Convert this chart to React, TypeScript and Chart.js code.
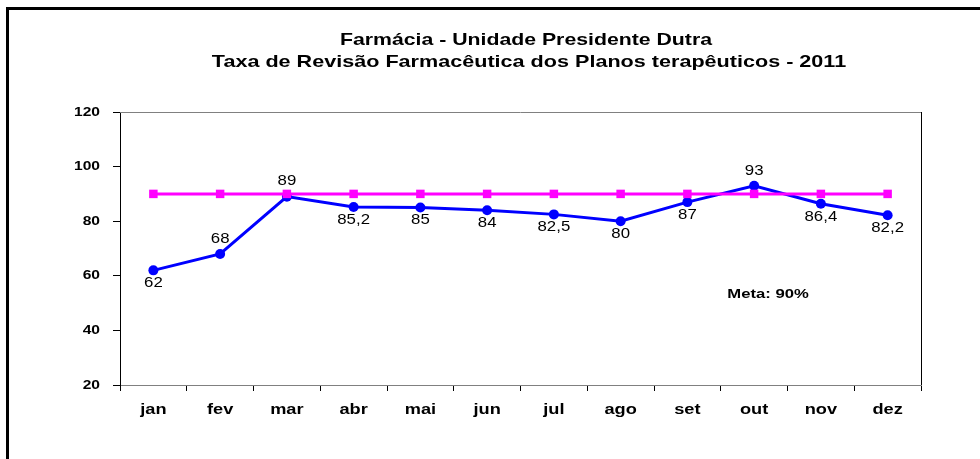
import React, { useEffect, useRef } from "react";
import { Chart, registerables } from "chart.js";

Chart.register(...registerables);

const months = ["jan", "fev", "mar", "abr", "mai", "jun", "jul", "ago", "set", "out", "nov", "dez"];
const taxa = [62, 68, 89, 85.2, 85, 84, 82.5, 80, 87, 93, 86.4, 82.2];
const meta = [90, 90, 90, 90, 90, 90, 90, 90, 90, 90, 90, 90];
const labelAbove = [false, true, true, false, false, false, false, false, false, true, false, false];
const titleLines = ["Farmácia - Unidade Presidente Dutra", "Taxa de Revisão Farmacêutica dos Planos terapêuticos - 2011"];
const metaText = "Meta: 90%";
const yTicks = [20, 40, 60, 80, 100, 120];

const FONT = "'Liberation Sans', Arial, sans-serif";

function wideText(ctx: any, txt: string, x: number, y: number, sx: number, align: string) {
  ctx.save();
  ctx.translate(x, y);
  ctx.scale(sx, 1);
  ctx.textAlign = align;
  ctx.fillText(txt, 0, 0);
  ctx.restore();
}

const decor = {
  id: "decor",
  beforeDraw(chart: any) {
    const ctx = chart.ctx;
    ctx.save();
    ctx.fillStyle = "#fff";
    ctx.fillRect(0, 0, chart.width, chart.height);
    ctx.strokeStyle = "#000";
    ctx.lineWidth = 3;
    ctx.beginPath();
    ctx.moveTo(7.5, chart.height + 2);
    ctx.lineTo(7.5, 8.5);
    ctx.lineTo(chart.width + 2, 8.5);
    ctx.stroke();
    ctx.restore();
  },
  afterDatasetsDraw(chart: any) {
    const ctx = chart.ctx;
    const a = chart.chartArea;
    const xs = chart.scales.x;
    const ys = chart.scales.y;
    ctx.save();
    ctx.lineWidth = 1;
    ctx.strokeStyle = "#808080";
    ctx.beginPath();
    ctx.moveTo(a.left, a.top + 0.5);
    ctx.lineTo(a.right, a.top + 0.5);
    ctx.stroke();
    ctx.strokeStyle = "#000";
    ctx.beginPath();
    ctx.moveTo(a.right + 0.5, a.top);
    ctx.lineTo(a.right + 0.5, a.bottom);
    ctx.stroke();

    ctx.fillStyle = "#000";
    ctx.textBaseline = "middle";
    // titles
    ctx.font = `bold 17px ${FONT}`;
    wideText(ctx, titleLines[0], 526, 40, 1.25, "center");
    wideText(ctx, titleLines[1], 529, 62, 1.27, "center");
    ctx.font = `bold 13px ${FONT}`;
    wideText(ctx, metaText, 768, 294, 1.28, "center");
    // y tick labels
    ctx.font = `bold 13px ${FONT}`;
    yTicks.forEach((v) => {
      wideText(ctx, String(v), a.left - 20, ys.getPixelForValue(v), 1.2, "right");
    });
    // x tick labels
    ctx.font = `bold 14px ${FONT}`;
    months.forEach((m, i) => {
      wideText(ctx, m, xs.getPixelForValue(i), 410, 1.3, "center");
    });
    // data labels
    const metaEl = chart.getDatasetMeta(1);
    ctx.font = `14px ${FONT}`;
    metaEl.data.forEach((pt: any, i: number) => {
      const txt = String(taxa[i]).replace(".", ",");
      const y = labelAbove[i] ? pt.y - 15 : pt.y + 13;
      wideText(ctx, txt, pt.x, y, 1.2, "center");
    });
    ctx.restore();
  },
};

export default function App() {
  const ref = useRef<HTMLCanvasElement | null>(null);
  useEffect(() => {
    if (!ref.current) return;
    const chart = new Chart(ref.current, {
      type: "line",
      data: {
        labels: months,
        datasets: [
          {
            label: "Meta",
            data: meta,
            borderColor: "#FF00FF",
            backgroundColor: "#FF00FF",
            borderWidth: 3,
            pointStyle: "rect",
            pointRadius: 6,
            pointBorderWidth: 0,
            tension: 0,
          },
          {
            label: "Taxa",
            data: taxa,
            borderColor: "#0000FF",
            backgroundColor: "#0000FF",
            borderWidth: 3,
            pointStyle: "circle",
            pointRadius: 5,
            pointBorderWidth: 0,
            tension: 0,
          },
        ],
      },
      options: {
        animation: false,
        responsive: false,
        layout: { padding: { left: 0, right: 59, top: 112, bottom: 0 } },
        plugins: { legend: { display: false }, title: { display: false }, tooltip: { enabled: false } },
        scales: {
          x: {
            offset: true,
            grid: { offset: true, drawOnChartArea: false, tickLength: 6, tickColor: "#000" },
            border: { color: "#808080", width: 1 },
            ticks: { display: false },
            afterFit: (s: any) => { s.height = 74; },
          },
          y: {
            min: 20,
            max: 120,
            afterBuildTicks: (s: any) => { s.ticks = yTicks.map((v) => ({ value: v })); },
            grid: { drawOnChartArea: false, tickLength: 7, tickColor: "#000" },
            border: { color: "#000", width: 1 },
            ticks: { display: false },
            afterFit: (s: any) => { s.width = 120; },
          },
        },
      },
      plugins: [decor],
    });
    return () => chart.destroy();
  }, []);
  return (
    <div style={{ position: "absolute", left: 0, top: 0, width: 980, height: 459 }}>
      <canvas ref={ref} width={980} height={459} style={{ display: "block" }} />
    </div>
  );
}
